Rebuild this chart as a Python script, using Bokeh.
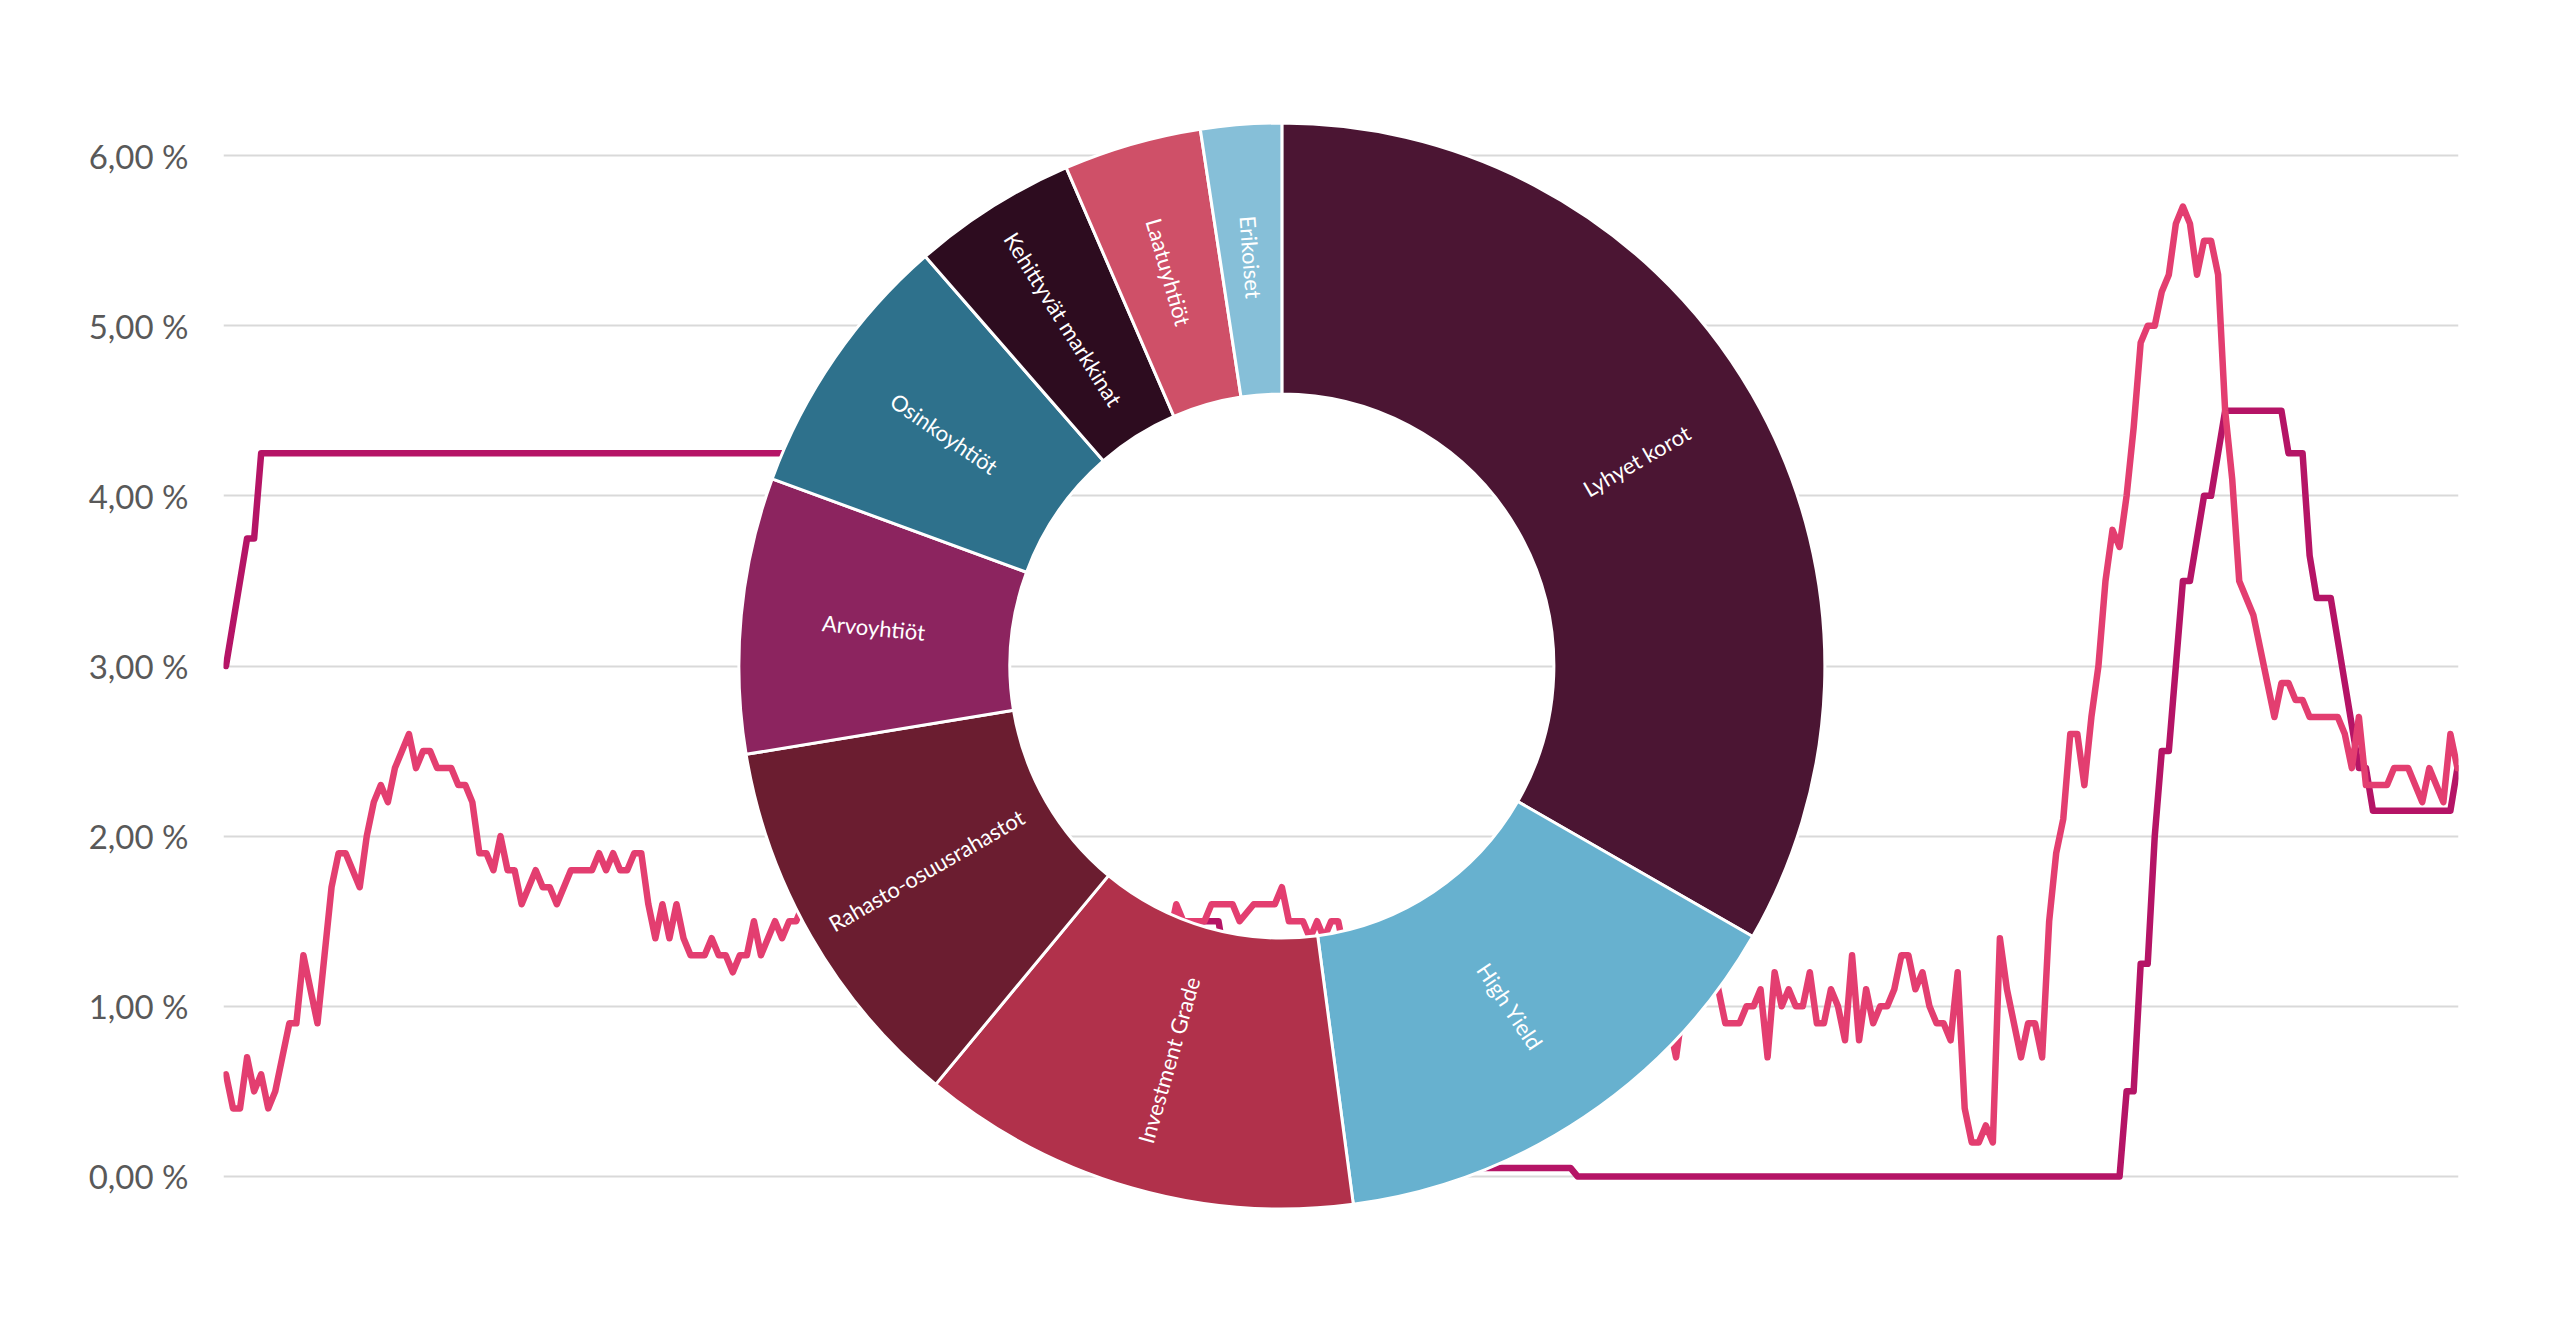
import math
from bokeh.plotting import figure
from bokeh.models import Range1d, FixedTicker, ColumnDataSource
from bokeh.core.properties import value
from bokeh.embed import file_html
from bokeh.resources import INLINE

# ---------------- data ----------------
tick_values = [0, 1, 2, 3, 4, 5, 6]
tick_labels = ["0,00 %", "1,00 %", "2,00 %", "3,00 %", "4,00 %", "5,00 %", "6,00 %"]

# policy-rate style series (months since Jan 2000), corner points
rate_month = [0, 3, 4, 5, 85, 90, 102, 105, 106, 107, 108, 110, 111, 112, 134, 135, 136,
              141, 142, 143, 150, 160, 166, 173, 176, 191, 192, 269, 270, 271, 272, 273,
              274, 275, 276, 277, 278, 279, 280, 281, 282, 283, 284, 292, 293, 295, 296,
              297, 299, 300, 301, 302, 303, 304, 305, 316, 317]
rate_value = [3.00, 3.75, 3.75, 4.25, 4.25, 4.00, 4.25, 3.75, 3.25, 2.50, 2.00, 1.50, 1.25,
              1.00, 1.00, 1.25, 1.50, 1.50, 1.25, 1.00, 0.75, 0.50, 0.25, 0.15, 0.05, 0.05,
              0.00, 0.00, 0.50, 0.50, 1.25, 1.25, 2.00, 2.50, 2.50, 3.00, 3.50, 3.50, 3.75,
              4.00, 4.00, 4.25, 4.50, 4.50, 4.25, 4.25, 3.65, 3.40, 3.40, 3.15, 2.90, 2.65,
              2.40, 2.40, 2.15, 2.15, 2.40]

# market-rate style series (months since Jan 2000), corner points
yield_month = [0, 1, 2, 3, 4, 5, 6, 7, 8, 9, 10, 11, 12, 13, 14, 15, 16, 17, 19, 20, 21, 22,
               23, 24, 26, 27, 28, 29, 30, 32, 33, 34, 35, 36, 37, 38, 39, 40, 41, 42, 44,
               45, 46, 47, 49, 52, 53, 54, 55, 56, 57, 58, 59, 60, 61, 62, 63, 64, 65, 66,
               68, 69, 70, 71, 72, 73, 74, 75, 76, 77, 78, 79, 80, 81,
               82, 84, 86, 88, 90, 93, 96, 99, 102, 105, 108, 111, 115, 120, 125, 130, 133,
               134, 135, 136, 139, 140, 143, 144, 146, 149, 150, 151, 153, 154, 155, 156,
               157, 158,
               159, 162, 165, 168, 171, 174, 177, 180, 183, 186, 189, 192, 195, 198, 201,
               203, 205,
               206, 207, 208, 209, 210, 211, 212, 213, 215, 216, 217, 218, 219, 220, 221,
               222, 223, 224, 225, 226, 227, 228, 229, 230, 231, 232, 233, 234, 235, 236,
               237, 238, 239, 240, 241, 242, 243, 244, 245, 246, 247, 248, 249, 250, 251,
               252, 253, 254, 255, 256, 257, 258, 259, 260, 261, 262, 263, 264, 265, 266,
               267, 268, 269, 270, 271, 272, 273, 274, 275, 276, 277, 278, 279, 280, 281,
               282, 283, 284, 285, 286, 287, 288, 289, 290, 291, 292, 293, 294, 295, 296,
               300, 301, 302, 303, 304, 307, 308, 310, 312, 313, 315, 316, 317]
yield_value = [0.6, 0.4, 0.4, 0.7, 0.5, 0.6, 0.4, 0.5, 0.7, 0.9, 0.9, 1.3, 1.1, 0.9, 1.3,
               1.7, 1.9, 1.9, 1.7, 2.0, 2.2, 2.3, 2.2, 2.4, 2.6, 2.4, 2.5, 2.5, 2.4, 2.4,
               2.3, 2.3, 2.2, 1.9, 1.9, 1.8, 2.0, 1.8, 1.8, 1.6, 1.8, 1.7, 1.7, 1.6, 1.8,
               1.8, 1.9, 1.8, 1.9, 1.8, 1.8, 1.9, 1.9, 1.6, 1.4, 1.6, 1.4, 1.6, 1.4, 1.3,
               1.3, 1.4, 1.3, 1.3, 1.2, 1.3, 1.3, 1.5, 1.3, 1.4, 1.5, 1.4, 1.5, 1.5,
               1.6, 1.7, 1.8, 1.9, 2.0, 2.2, 2.3, 2.2, 2.0, 1.8, 1.6, 1.4, 1.3, 1.2, 1.3,
               1.3, 1.4,
               1.4, 1.6, 1.5, 1.5, 1.6, 1.6, 1.5, 1.6, 1.6, 1.7, 1.5, 1.5, 1.4, 1.5, 1.4,
               1.5, 1.5,
               1.3, 1.2, 1.3, 1.1, 1.2, 1.0, 1.1, 1.0, 1.2, 1.1, 1.2, 1.0, 1.1, 1.0, 1.1,
               1.0, 0.9,
               0.7, 1.0, 1.3, 1.2, 1.4, 1.3, 1.1, 0.9, 0.9, 1.0, 1.0, 1.1, 0.7, 1.2, 1.0,
               1.1, 1.0, 1.0, 1.2, 0.9, 0.9, 1.1, 1.0, 0.8, 1.3, 0.8, 1.1, 0.9, 1.0, 1.0,
               1.1, 1.3, 1.3, 1.1, 1.2, 1.0, 0.9, 0.9, 0.8, 1.2, 0.4, 0.2, 0.2, 0.3, 0.2,
               1.4, 1.1, 0.9, 0.7, 0.9, 0.9, 0.7, 1.5, 1.9, 2.1, 2.6, 2.6, 2.3, 2.7, 3.0,
               3.5, 3.8, 3.7, 4.0, 4.4, 4.9, 5.0, 5.0, 5.2, 5.3, 5.6, 5.7, 5.6, 5.3, 5.5,
               5.5, 5.3, 4.5, 4.1, 3.5, 3.4, 3.3, 3.1, 2.9, 2.7, 2.9, 2.9, 2.8, 2.8, 2.7,
               2.7, 2.6, 2.4, 2.7, 2.3, 2.3, 2.4, 2.4, 2.2, 2.4, 2.2, 2.6, 2.4]

segments = ["Lyhyet korot", "High Yield", "Investment Grade", "Rahasto-osuusrahastot",
            "Arvoyhtiöt", "Osinkoyhtiöt", "Kehittyvät markkinat", "Laatuyhtiöt", "Erikoiset"]
shares = [33.3, 14.6, 13.1, 11.4, 8.2, 8.0, 4.9, 4.1, 2.4]
segment_colors = ["#4B1533", "#67B1CF", "#B1314B", "#6B1D30", "#8C245F", "#2E718C",
                  "#2D0C1F", "#CF5068", "#86BFD8"]

# ---------------- layout ----------------
FRAME_W, FRAME_H = 2235, 1174
X0, X1 = -0.35, 317.15
Y0, Y1 = -0.4, 6.5
CENTER_X, CENTER_Y = 150, 3.0
R_IN, R_OUT, R_LABEL = 272, 543, 410
FONT = "Lato"

p = figure(frame_width=FRAME_W, frame_height=FRAME_H,
           x_range=Range1d(X0, X1), y_range=Range1d(Y0, Y1),
           output_backend="svg", toolbar_location=None, x_axis_location=None,
           min_border_left=223, min_border_right=86, min_border_top=70, min_border_bottom=52)
p.outline_line_color = None
p.background_fill_color = "white"
p.border_fill_color = "white"
p.xgrid.visible = False

p.yaxis.ticker = FixedTicker(ticks=tick_values)
p.yaxis.major_label_overrides = {t: lab for t, lab in zip(tick_values, tick_labels)}
p.yaxis.axis_line_color = None
p.yaxis.major_tick_line_color = None
p.yaxis.minor_tick_line_color = None
p.yaxis.major_tick_out = 0
p.yaxis.major_tick_in = 0
p.yaxis.major_label_standoff = 35
p.yaxis.major_label_text_font = FONT
p.yaxis.major_label_text_font_size = "33px"
p.yaxis.major_label_text_color = "#595959"
p.ygrid.ticker = FixedTicker(ticks=tick_values)
p.ygrid.grid_line_color = "#d9d9d9"
p.ygrid.grid_line_width = 2

p.line(rate_month, rate_value, line_color="#B51466", line_width=6.5,
       line_join="round", line_cap="round")
p.line(yield_month, yield_value, line_color="#E33E70", line_width=6.5,
       line_join="round", line_cap="round")

# ---------------- donut ----------------
px_x = FRAME_W / (X1 - X0)
px_y = FRAME_H / (Y1 - Y0)
total = sum(shares)
starts, ends, lx, ly, la = [], [], [], [], []
cum = 0.0
for s in shares:
    t0 = cum / total * 360.0
    cum += s
    t1 = cum / total * 360.0
    starts.append(math.radians(90 - t0))
    ends.append(math.radians(90 - t1))
    tm = (t0 + t1) / 2
    a = math.radians(90 - tm)
    lx.append(CENTER_X + R_LABEL * math.cos(a) / px_x)
    ly.append(CENTER_Y + R_LABEL * math.sin(a) / px_y)
    la.append(math.radians(90 - tm) if tm < 180 else math.radians(270 - tm))

src = ColumnDataSource(dict(start=starts, end=ends, color=segment_colors,
                            lx=lx, ly=ly, la=la, name=segments,
                            cx=[CENTER_X] * len(shares), cy=[CENTER_Y] * len(shares)))
p.annular_wedge(x="cx", y="cy", inner_radius=R_IN, outer_radius=R_OUT,
                inner_radius_units="screen", outer_radius_units="screen",
                start_angle="start", end_angle="end", direction="clock",
                fill_color="color", line_color="white", line_width=3, source=src)
p.text(x="lx", y="ly", text="name", angle="la", source=src,
       text_font=value(FONT), text_font_size="22px", text_color="white",
       text_align="center", text_baseline="middle")

open("out.html", "w").write(file_html(p, INLINE))
